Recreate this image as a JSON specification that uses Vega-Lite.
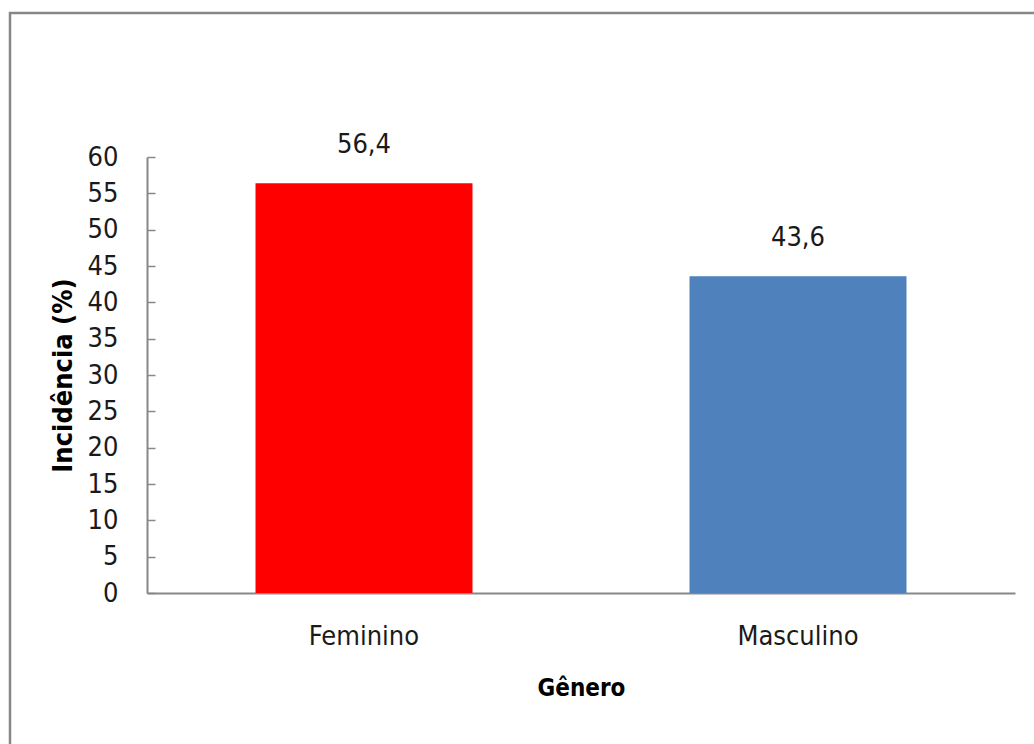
{
  "$schema": "https://vega.github.io/schema/vega-lite/v6.json",
  "width": 1040,
  "height": 740,
  "autosize": {"type": "none"},
  "padding": {"left": 10, "top": 13, "right": 0, "bottom": 0},
  "background": "white",
  "config": {
    "view": {"stroke": "#878787", "strokeWidth": 2.5},
    "font": "DejaVu Sans Condensed, Liberation Sans, sans-serif",
    "axis": {"labelFont": "DejaVu Sans Condensed, Liberation Sans, sans-serif", "titleFont": "DejaVu Sans Condensed, Liberation Sans, sans-serif", "labelColor": "#1a1a1a", "titleColor": "#000000", "domainColor": "#888888", "tickColor": "#888888", "grid": false}
  },
  "data": {
    "values": [
      {"genero": "Feminino", "incidencia": 56.4, "label": "56,4"},
      {"genero": "Masculino", "incidencia": 43.6, "label": "43,6"}
    ]
  },
  "encoding": {
    "x": {
      "field": "genero",
      "type": "nominal",
      "sort": null,
      "scale": {"range": [137, 1005], "paddingInner": 0.5, "paddingOuter": 0.25},
      "axis": {
        "title": "Gênero",
        "offset": -160,
        "ticks": false,
        "labelAngle": 0,
        "labelFontSize": 27,
        "labelPadding": 30,
        "titleFontSize": 24,
        "titleFontWeight": "bold",
        "titlePadding": 27,
        "domainWidth": 2
      }
    },
    "y": {
      "field": "incidencia",
      "type": "quantitative",
      "scale": {"domain": [0, 60], "range": [580, 144], "nice": false},
      "axis": {
        "title": "Incidência (%)",
        "offset": -137,
        "values": [0, 5, 10, 15, 20, 25, 30, 35, 40, 45, 50, 55, 60],
        "tickSize": -8,
        "tickWidth": 1.5,
        "domainWidth": 2,
        "labelFontSize": 27,
        "labelPadding": 37,
        "titleFontSize": 27,
        "titleFontWeight": "bold",
        "titlePadding": 10
      }
    }
  },
  "layer": [
    {
      "mark": {"type": "bar"},
      "encoding": {
        "color": {
          "field": "genero",
          "type": "nominal",
          "scale": {"domain": ["Feminino", "Masculino"], "range": ["#ff0000", "#4f81bd"]},
          "legend": null
        }
      }
    },
    {
      "mark": {"type": "text", "baseline": "middle", "dy": -38, "fontSize": 27, "color": "#1a1a1a"},
      "encoding": {"text": {"field": "label"}}
    }
  ]
}
